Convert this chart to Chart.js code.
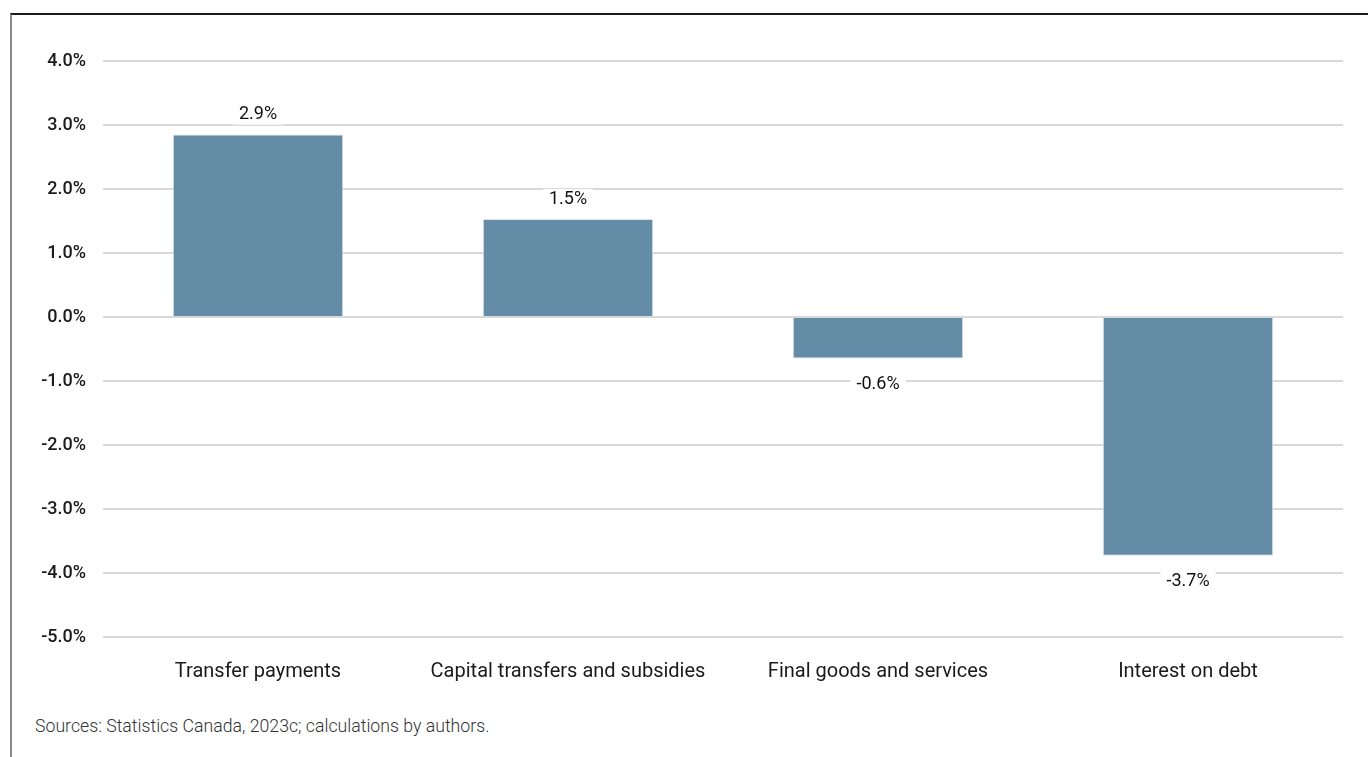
<!DOCTYPE html>
<html>
<head>
<meta charset="utf-8">
<script src="https://cdn.jsdelivr.net/npm/chart.js@4"></script>
<style>
  html, body { margin: 0; padding: 0; background: #fff; overflow: hidden; }
  body { width: 1368px; height: 757px; position: relative; font-family: Roboto, sans-serif; }
  .frame {
    position: absolute; left: 10px; top: 13px; width: 1400px; height: 760px;
    border-top: 2px solid #1a1a1a; border-left: 2px solid #8a8a8a;
  }
  #wrap { position: absolute; left: 0; top: 0; width: 1368px; height: 707px; }
  .source {
    position: absolute; left: 35px; top: 716px;
    font-size: 17.7px; font-weight: 300; color: #333;
  }
</style>
</head>
<body>
<div class="frame"></div>
<div id="wrap"><canvas id="chart"></canvas></div>
<div class="source">Sources: Statistics Canada, 2023c; calculations by authors.</div>
<script>
const categories = ['Transfer payments', 'Capital transfers and subsidies', 'Final goods and services', 'Interest on debt'];
const values = [2.85, 1.53, -0.65, -3.73];
const valueLabels = ['2.9%', '1.5%', '-0.6%', '-3.7%'];
const barColor = '#658ca7';

// labels above/below each bar with a white box behind them
const barLabels = {
  id: 'barLabels',
  afterDatasetsDraw(chart) {
    const ctx = chart.ctx;
    const meta = chart.getDatasetMeta(0);
    ctx.save();
    ctx.font = '400 18px Roboto';
    ctx.textAlign = 'center';
    ctx.textBaseline = 'middle';
    meta.data.forEach((bar, i) => {
      const txt = valueLabels[i];
      const y = values[i] >= 0 ? bar.y - 20 : bar.y + 26;
      const w = ctx.measureText(txt).width + 12;
      ctx.fillStyle = '#fff';
      ctx.fillRect(bar.x - w / 2, y - 10, w, 20);
      ctx.fillStyle = '#111';
      ctx.fillText(txt, bar.x, y);
    });
    ctx.restore();
  }
};

new Chart(document.getElementById('chart'), {
  type: 'bar',
  data: {
    labels: categories,
    datasets: [{
      data: values,
      backgroundColor: barColor,
      borderColor: '#dfe6ec',
      borderWidth: 1,
      categoryPercentage: 1,
      barPercentage: 0.55
    }]
  },
  options: {
    responsive: true,
    maintainAspectRatio: false,
    animation: false,
    layout: { padding: { top: 61, right: 25, bottom: 0, left: 0 } },
    plugins: { legend: { display: false }, tooltip: { enabled: false } },
    scales: {
      x: {
        grid: { display: false, drawTicks: false },
        border: { display: false },
        ticks: { color: '#1a1a1a', font: { family: 'Roboto', size: 20 }, padding: 23, maxRotation: 0 }
      },
      y: {
        min: -5,
        max: 4,
        afterFit(scale) { scale.width = 103; },
        grid: { color: '#d9d9d9', lineWidth: 2, drawTicks: false },
        border: { display: false },
        ticks: {
          stepSize: 1,
          padding: 17,
          color: '#1a1a1a',
          font: { family: 'Roboto', size: 18, weight: '500' },
          callback: v => v.toFixed(1) + '%'
        }
      }
    }
  },
  plugins: [barLabels]
});
</script>
</body>
</html>
